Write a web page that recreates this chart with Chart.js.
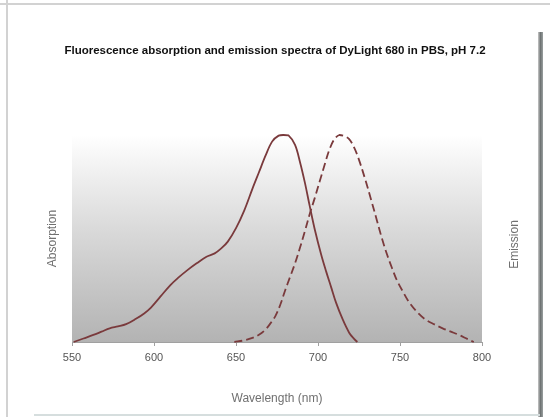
<!DOCTYPE html>
<html>
<head>
<meta charset="utf-8">
<script src="https://cdn.jsdelivr.net/npm/chart.js@4.4.1/dist/chart.umd.min.js"></script>
<style>
  html, body { margin:0; padding:0; background:#ffffff; }
  #wrap { position:relative; width:550px; height:417px; overflow:hidden; }
  #c { position:absolute; left:0; top:0; }
  .fr { position:absolute; }
</style>
</head>
<body>
<div id="wrap">
  <canvas id="c" width="550" height="417"></canvas>
  <div class="fr" style="left:0;top:3px;width:550px;height:2px;background:#d2d2d2"></div>
  <div class="fr" style="left:6px;top:0;width:2px;height:417px;background:#d2d2d2"></div>
  <div class="fr" style="left:538px;top:32px;width:5px;height:385px;background:linear-gradient(to right,#c8c8c8,#6f7474,#9aa0a0)"></div>
  <div class="fr" style="left:34px;top:414px;width:506px;height:2px;background:#d6dede"></div>
</div>
<script>
const chartTitle = 'Fluorescence absorption and emission spectra of DyLight 680 in PBS, pH 7.2';
const xTitle = 'Wavelength (nm)';
const leftTitle = 'Absorption';
const rightTitle = 'Emission';
const xTickValues = [550, 600, 650, 700, 750, 800];

const absWavelength = [551, 557, 563, 568, 573, 578, 583, 589, 594, 598, 604, 610, 615, 620, 626, 632, 637, 641, 645, 650, 655, 660, 664, 668, 672, 676, 679, 682, 686, 689, 692, 695, 698, 702, 705, 708, 711, 715, 719, 722, 724];
const absValues = [0, 0.017, 0.034, 0.05, 0.066, 0.075, 0.086, 0.112, 0.138, 0.165, 0.22, 0.275, 0.312, 0.345, 0.38, 0.412, 0.428, 0.452, 0.485, 0.55, 0.635, 0.74, 0.82, 0.9, 0.968, 0.997, 1.0, 0.998, 0.952, 0.87, 0.77, 0.655, 0.545, 0.42, 0.34, 0.265, 0.19, 0.11, 0.045, 0.015, 0];

const emWavelength = [649, 655, 660, 664, 668, 671, 674, 677, 680, 683, 686, 689, 692, 695, 698, 701, 704, 707, 710, 713, 716, 719, 722, 725, 729, 733, 736, 739, 742, 745, 748, 752, 756, 761, 766, 771, 776, 781, 786, 791, 795];
const emValues = [0, 0.008, 0.02, 0.035, 0.06, 0.09, 0.125, 0.18, 0.25, 0.315, 0.38, 0.455, 0.535, 0.62, 0.695, 0.775, 0.855, 0.93, 0.98, 1.0, 0.995, 0.98, 0.94, 0.88, 0.78, 0.67, 0.585, 0.5, 0.425, 0.36, 0.3, 0.24, 0.187, 0.14, 0.106, 0.085, 0.066, 0.05, 0.034, 0.015, 0];

const FONT = 'Liberation Sans, Arial, Helvetica, sans-serif';
const lineColor = '#7a3a3c';

const toPoints = (xs, ys) => xs.map((x, i) => ({x: x, y: ys[i]}));

const bgPlugin = {
  id: 'plotBg',
  beforeDraw(chart) {
    const {ctx, chartArea: a} = chart;
    const g = ctx.createLinearGradient(0, a.top, 0, a.bottom);
    g.addColorStop(0, '#ffffff');
    g.addColorStop(0.45, '#dadada');
    g.addColorStop(1, '#b3b3b3');
    ctx.save();
    ctx.fillStyle = g;
    ctx.fillRect(a.left, a.top, a.right - a.left, a.bottom - a.top);
    ctx.restore();
  }
};

const rightTitlePlugin = {
  id: 'rightTitle',
  afterDraw(chart) {
    const {ctx, chartArea: a} = chart;
    ctx.save();
    ctx.translate(a.right + 33, (a.top + a.bottom) / 2 + 6);
    ctx.rotate(-Math.PI / 2);
    ctx.font = '12px ' + FONT;
    ctx.fillStyle = '#707070';
    ctx.textAlign = 'center';
    ctx.textBaseline = 'middle';
    ctx.fillText(rightTitle, 0, 0);
    ctx.restore();
  }
};

new Chart(document.getElementById('c'), {
  type: 'line',
  data: {
    datasets: [
      {
        label: leftTitle,
        data: toPoints(absWavelength, absValues),
        borderColor: lineColor,
        borderWidth: 1.8,
        pointRadius: 0,
        tension: 0.35,
        fill: false,
        clip: false,
        yAxisID: 'y'
      },
      {
        label: rightTitle,
        data: toPoints(emWavelength, emValues),
        borderColor: lineColor,
        borderWidth: 1.8,
        borderDash: [8, 4],
        pointRadius: 0,
        tension: 0.35,
        fill: false,
        clip: false,
        yAxisID: 'y2'
      }
    ]
  },
  options: {
    responsive: false,
    animation: false,
    devicePixelRatio: 1,
    layout: { padding: 0 },
    plugins: {
      legend: { display: false },
      tooltip: { enabled: false },
      title: {
        display: true,
        text: chartTitle,
        color: '#111111',
        font: { family: FONT, size: 11.5, weight: 'bold', lineHeight: 1.2 },
        padding: { top: 44, bottom: 77.2 }
      }
    },
    scales: {
      x: {
        type: 'linear',
        min: 550,
        max: 800,
        afterBuildTicks(scale) { scale.ticks = xTickValues.map(v => ({value: v})); },
        afterFit(scale) { scale.height = 75; },
        ticks: { color: '#555555', font: { family: FONT, size: 11 }, padding: 5, maxRotation: 0 },
        grid: { drawOnChartArea: false, drawTicks: true, tickLength: 4, color: '#a0a0a0' },
        border: { display: true, color: '#a0a0a0', width: 1 },
        title: { display: true, text: xTitle, color: '#707070', font: { family: FONT, size: 12 }, padding: { top: 0, bottom: 11 } }
      },
      y: {
        type: 'linear',
        position: 'left',
        min: 0,
        max: 1,
        afterFit(scale) { scale.width = 72; },
        ticks: { display: false },
        grid: { display: false },
        border: { display: false },
        title: { display: true, text: leftTitle, color: '#707070', font: { family: FONT, size: 12 }, padding: { top: 45, bottom: 0 } }
      },
      y2: {
        type: 'linear',
        position: 'right',
        min: 0,
        max: 1,
        afterFit(scale) { scale.width = 68; },
        ticks: { display: false },
        grid: { display: false },
        border: { display: false }
      }
    }
  },
  plugins: [bgPlugin, rightTitlePlugin]
});
</script>
</body>
</html>
